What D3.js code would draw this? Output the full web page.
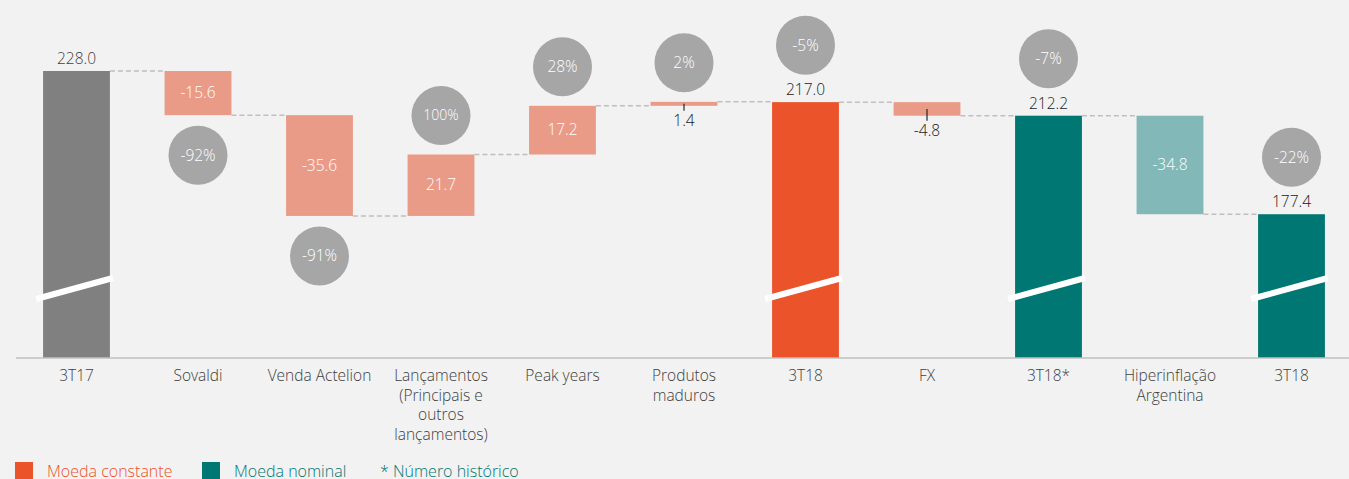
<!DOCTYPE html>
<html lang="pt">
<head>
  <meta charset="UTF-8">
  <title>Waterfall 3T17 - 3T18</title>
  <script src="https://cdn.jsdelivr.net/npm/d3@7"></script>
  <style>
    html, body { margin: 0; padding: 0; background: #f2f2f2; }
    svg { display: block; font-family: "Open Sans", "Noto Sans", sans-serif; font-weight: 300; }
  </style>
</head>
<body>
  <div id="chart"></div>
  <script>
    // categorias (rótulos do eixo x, uma linha por item)
    const labels = [
      ['3T17'],
      ['Sovaldi'],
      ['Venda Actelion'],
      ['Lançamentos', '(Principais e', 'outros', 'lançamentos)'],
      ['Peak years'],
      ['Produtos', 'maduros'],
      ['3T18'],
      ['FX'],
      ['3T18*'],
      ['Hiperinflação', 'Argentina'],
      ['3T18']
    ];
    // valores: totais e variações
    const values = [228.0, -15.6, -35.6, 21.7, 17.2, 1.4, 217.0, -4.8, 212.2, -34.8, 177.4];
    const isTotal = [true, false, false, false, false, false, true, false, true, false, true];
    const pctLabels = [null, '-92%', '-91%', '100%', '28%', '2%', '-5%', null, '-7%', null, '-22%'];
    const barColors = ['#808080', '#e99b87', '#e99b87', '#e99b87', '#e99b87', '#e99b87',
      '#eb532a', '#e99b87', '#007773', '#82b8b8', '#007773'];
    const legendItems = [
      { text: 'Moeda constante', color: '#eb532a', swatch: true },
      { text: 'Moeda nominal', color: '#007773', swatch: true },
      { text: '* Número histórico', color: '#007773', swatch: false }
    ];

    const width = 1349, height = 479;
    const axisY = 358;
    const axisBreak = 126.6; // o eixo y é cortado (barras com quebra)
    const fontFamily = '"Open Sans", "Noto Sans", sans-serif';

    const svg = d3.select('#chart').append('svg')
      .attr('width', width)
      .attr('height', height);

    svg.append('rect').attr('width', width).attr('height', height).attr('fill', '#f2f2f2');

    // montar os degraus da cascata
    let running = 0;
    const bars = values.map((v, i) => {
      let lo, hi;
      if (isTotal[i]) {
        lo = axisBreak; hi = v; running = v;
      } else {
        const start = running;
        running = +(running + v).toFixed(1);
        lo = Math.min(start, running); hi = Math.max(start, running);
      }
      return { i, v, lo, hi, end: running, total: isTotal[i] };
    });

    const x = d3.scaleBand()
      .domain(d3.range(values.length))
      .range([15.75, 1352.25])
      .paddingInner(0.45)
      .paddingOuter(0.225);

    const y = d3.scaleLinear()
      .domain([axisBreak, 228])
      .range([axisY, 71]);

    // linhas tracejadas de ligação
    svg.append('g')
      .selectAll('line')
      .data(bars.slice(0, -1))
      .join('line')
      .attr('x1', d => x(d.i) + x.bandwidth())
      .attr('x2', d => x(d.i + 1))
      .attr('y1', d => y(d.end))
      .attr('y2', d => y(d.end))
      .attr('stroke', '#bfbfbf')
      .attr('stroke-width', 1.5)
      .attr('stroke-dasharray', '5,3');

    // barras
    svg.append('g')
      .selectAll('rect')
      .data(bars)
      .join('rect')
      .attr('x', d => x(d.i))
      .attr('y', d => y(d.hi))
      .attr('width', x.bandwidth())
      .attr('height', d => y(d.lo) - y(d.hi))
      .attr('fill', d => barColors[d.i]);

    // quebras brancas nas barras de total
    svg.append('g')
      .selectAll('line')
      .data(bars.filter(d => d.total))
      .join('line')
      .attr('x1', d => x(d.i) - 7)
      .attr('x2', d => x(d.i) + x.bandwidth() + 3)
      .attr('y1', y(axisBreak) - 59)
      .attr('y2', y(axisBreak) - 80)
      .attr('stroke', '#fff')
      .attr('stroke-width', 6);

    // eixo x
    const xAxis = d3.axisBottom(x).tickSize(0).tickFormat('');
    const axisG = svg.append('g')
      .attr('transform', `translate(0,${axisY})`)
      .call(xAxis)
      .attr('font-family', fontFamily);
    axisG.select('.domain').attr('d', `M16,0H${width}`).attr('stroke', '#c0c0c0').attr('stroke-width', 1.5);
    axisG.selectAll('.tick').each(function (d) {
      const t = d3.select(this).append('text')
        .attr('text-anchor', 'middle')
        .attr('fill', '#404040')
        .attr('font-size', 15.5);
      labels[d].forEach((line, k) => {
        t.append('tspan').attr('x', 0).attr('y', 23 + k * 19.5).text(line);
      });
    });

    // hífen simples, como no original
    const fmt = v => v.toFixed(1);
    const small = d => !d.total && (y(d.lo) - y(d.hi)) < 20;

    // rótulos de valores
    const valG = svg.append('g').attr('font-size', 15.5).attr('text-anchor', 'middle');
    bars.forEach(d => {
      const cx = x(d.i) + x.bandwidth() / 2;
      if (d.total) {
        valG.append('text').attr('x', cx).attr('y', y(d.hi) - 7)
          .attr('fill', '#1a1a1a').text(fmt(d.v));
      } else if (small(d)) {
        const bottom = y(d.lo);
        svg.append('line')
          .attr('x1', cx).attr('x2', cx)
          .attr('y1', (y(d.hi) + bottom) / 2).attr('y2', bottom + 5)
          .attr('stroke', '#262626').attr('stroke-width', 1.2);
        valG.append('text').attr('x', cx).attr('y', bottom + 20)
          .attr('fill', '#1a1a1a').text(fmt(d.v));
      } else {
        valG.append('text').attr('x', cx).attr('y', (y(d.hi) + y(d.lo)) / 2 + 5)
          .attr('fill', '#fff').text(fmt(d.v));
      }
    });
    valG.select('text').attr('fill', '#404040');

    // bolhas de variação percentual
    const bub = svg.append('g')
      .selectAll('g')
      .data(bars.filter(d => pctLabels[d.i]))
      .join('g')
      .attr('transform', d => {
        const cx = x(d.i) + x.bandwidth() / 2;
        let cy;
        if (d.total) cy = y(d.hi) - 57;
        else if (d.v > 0) cy = y(d.hi) - 39;
        else cy = y(d.lo) + 40;
        return `translate(${cx},${cy})`;
      });
    bub.append('circle').attr('r', 29.5).attr('fill', '#a6a6a6');
    bub.append('text')
      .attr('text-anchor', 'middle')
      .attr('dy', '0.35em')
      .attr('fill', '#fff')
      .attr('font-size', d => pctLabels[d.i] === '100%' ? 14 : 15.5)
      .text(d => pctLabels[d.i]);

    // legenda
    const legX = [15, 202, 380];
    const leg = svg.append('g')
      .selectAll('g')
      .data(legendItems)
      .join('g')
      .attr('transform', (d, i) => `translate(${legX[i]},0)`);
    leg.filter(d => d.swatch).append('rect')
      .attr('x', 0).attr('y', 462).attr('width', 18).attr('height', 18)
      .attr('fill', d => d.color);
    leg.append('text')
      .attr('x', d => d.swatch ? 32 : 0)
      .attr('y', 477)
      .attr('font-size', 16)
      .attr('fill', d => d.color)
      .text(d => d.text);
  </script>
</body>
</html>
